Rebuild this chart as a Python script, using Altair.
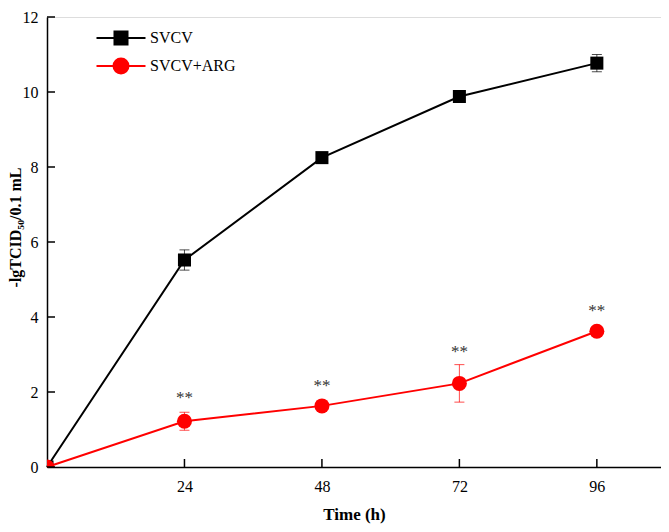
import altair as alt
import pandas as pd

# ---- data ----
time_h = [0, 24, 48, 72, 96]
series = ["SVCV", "SVCV+ARG"]
svcv_mean = [0, 5.52, 8.25, 9.88, 10.77]
svcv_err = [0, 0.27, 0.12, 0.12, 0.23]
arg_mean = [0, 1.22, 1.63, 2.23, 3.62]
arg_err = [0, 0.24, 0.06, 0.50, 0.05]
star_time = [24, 48, 72, 96]
star_y = [1.85, 2.15, 3.06, 4.15]
star_text = ["**", "**", "**", "**"]
x_ticks = [24, 48, 72, 96]
y_ticks = [0, 2, 4, 6, 8, 10, 12]

rows = []
for name, means, errs in [(series[0], svcv_mean, svcv_err), (series[1], arg_mean, arg_err)]:
    for t, m, e in zip(time_h, means, errs):
        rows.append({"series": name, "time": t, "mean": m, "lo": m - e, "hi": m + e, "err": e})
df = pd.DataFrame(rows)
err_df = df[df["err"] > 0]
stars_df = pd.DataFrame({"time": star_time, "y": star_y, "txt": star_text})
xt_df = pd.DataFrame({"t": x_ticks})
yt_df = pd.DataFrame({"v": y_ticks})

FONT = "Liberation Serif"
W, H = 614, 450
xs = alt.Scale(domain=[0, 107.2], nice=False, zero=True)
ys = alt.Scale(domain=[0, 12], nice=False)
colors = ["#000000", "#ff0000"]
cscale = alt.Scale(domain=series, range=colors)

sq_path = "M-3.5,0H3.5M-0.93,-0.93H0.93V0.93H-0.93Z"
ci_path = "M-3.5,0H3.5M-1.07,0A1.07,1.07 0 1,0 1.07,0A1.07,1.07 0 1,0 -1.07,0Z"
legend = alt.Legend(
    title=None, orient="none", legendX=66, legendY=13,
    labelFont=FONT, labelFontSize=16, labelColor="black",
    labelOffset=21, rowPadding=5, symbolSize=196, symbolStrokeWidth=2,
    symbolOpacity=1,
)
color_enc = alt.Color("series:N", scale=cscale, legend=legend)

x_enc = alt.X("time:Q", scale=xs, axis=alt.Axis(
    values=x_ticks, tickSize=0, grid=False, domainColor="black", domainWidth=1.5,
    labelFont=FONT, labelFontSize=16, labelColor="black", labelPadding=11,
    title="Time (h)", titleFont=FONT, titleFontSize=17, titleFontWeight="bold",
    titleColor="black", titlePadding=12))
y_enc = alt.Y("mean:Q", scale=ys, axis=alt.Axis(
    values=y_ticks, tickSize=0, grid=False, domainColor="black", domainWidth=1.5,
    labelFont=FONT, labelFontSize=16, labelColor="black", labelPadding=9,
    title="-lgTCID₅₀/0.1 mL", titleFont=FONT, titleFontSize=16, titleFontWeight="bold",
    titleColor="black", titleX=-27, titleY=210, titleBaseline="alphabetic", titleAngle=270))

base = alt.Chart(df)
lines = base.mark_line(strokeWidth=2).encode(
    x=x_enc, y=y_enc, color=color_enc, detail="series:N")

err_rule = alt.Chart(err_df).mark_rule(strokeWidth=1, opacity=0.7).encode(
    x=alt.X("time:Q", scale=xs), y=alt.Y("lo:Q", scale=ys), y2="hi:Q", color=color_enc)
err_lo = alt.Chart(err_df).mark_tick(orient="horizontal", size=10, thickness=1, opacity=0.7).encode(
    x=alt.X("time:Q", scale=xs), y=alt.Y("lo:Q", scale=ys), color=color_enc)
err_hi = alt.Chart(err_df).mark_tick(orient="horizontal", size=10, thickness=1, opacity=0.7).encode(
    x=alt.X("time:Q", scale=xs), y=alt.Y("hi:Q", scale=ys), color=color_enc)

pts_svcv = base.transform_filter(alt.datum.series == series[0]).mark_point(
    filled=True, opacity=1, clip=True, shape="square", size=170).encode(
    x=alt.X("time:Q", scale=xs), y=alt.Y("mean:Q", scale=ys), color=color_enc)
pts_arg = base.transform_filter(alt.datum.series == series[1]).mark_point(
    filled=True, opacity=1, clip=True, shape="circle", size=225).encode(
    x=alt.X("time:Q", scale=xs), y=alt.Y("mean:Q", scale=ys), color=color_enc)

# legend-only layer (invisible marks) giving line + marker symbols
legend_layer = base.mark_point(filled=True, strokeWidth=2, opacity=0).encode(
    x=alt.X("time:Q", scale=xs), y=alt.Y("mean:Q", scale=ys),
    fill=alt.Fill("series:N", scale=cscale, legend=legend),
    stroke=alt.Stroke("series:N", scale=cscale, legend=legend),
    shape=alt.Shape("series:N", scale=alt.Scale(domain=series, range=[sq_path, ci_path]), legend=legend))

stars = alt.Chart(stars_df).mark_text(font=FONT, fontSize=17, color="#333333", baseline="middle").encode(
    x=alt.X("time:Q", scale=xs), y=alt.Y("y:Q", scale=ys), text="txt:N")

xticks = alt.Chart(xt_df).mark_rule(color="black", strokeWidth=1.5).encode(
    x=alt.X("t:Q", scale=xs), y=alt.value(H), y2=alt.value(H - 8))
yticks = alt.Chart(yt_df).mark_rule(color="black", strokeWidth=1.5).encode(
    y=alt.Y("v:Q", scale=ys), x=alt.value(0), x2=alt.value(8))

chart = alt.layer(lines, err_rule, err_lo, err_hi, pts_svcv, pts_arg, legend_layer, stars, xticks, yticks).properties(
    width=W, height=H,
    autosize=alt.AutoSizeParams(type="none"),
    padding={"left": 39, "top": 9, "right": 0, "bottom": 57},
).configure_view(stroke=None).configure(background="white")

chart.save("out.html", embed_options={"renderer": "svg", "actions": False})
